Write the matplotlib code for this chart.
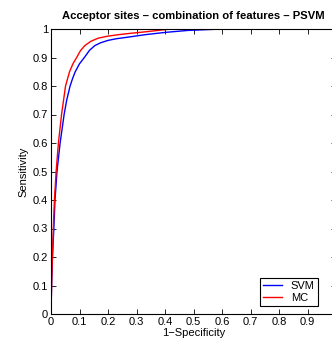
import matplotlib
matplotlib.use('Agg')
import matplotlib.pyplot as plt

plt.rcParams['font.family'] = ['Liberation Sans', 'DejaVu Sans']

# ROC points (false positive rate, true positive rate)
svm_fpr = [0.0, 0.001, 0.002, 0.005, 0.010, 0.014, 0.021, 0.032, 0.046, 0.055, 0.067,
           0.076, 0.085, 0.100, 0.117, 0.135, 0.154, 0.175, 0.200, 0.230, 0.260,
           0.295, 0.330, 0.400, 0.480, 0.600, 1.0]
svm_tpr = [0.0, 0.05, 0.10, 0.20, 0.30, 0.40, 0.50, 0.60, 0.70, 0.75, 0.80,
           0.827, 0.85, 0.878, 0.90, 0.925, 0.942, 0.952, 0.960, 0.966, 0.970,
           0.975, 0.980, 0.988, 0.995, 1.0, 1.0]

mc_fpr = [0.0, 0.001, 0.002, 0.005, 0.008, 0.012, 0.018, 0.026, 0.037, 0.051,
          0.065, 0.077, 0.090, 0.104, 0.119, 0.140, 0.166, 0.200, 0.236, 0.280,
          0.330, 0.420, 1.0]
mc_tpr = [0.0, 0.05, 0.10, 0.20, 0.30, 0.40, 0.50, 0.60, 0.70, 0.80,
          0.85, 0.878, 0.90, 0.925, 0.942, 0.957, 0.968, 0.975, 0.980, 0.985,
          0.990, 1.0, 1.0]

ticks = [0, 0.1, 0.2, 0.3, 0.4, 0.5, 0.6, 0.7, 0.8, 0.9, 1]
x_labels = ['0', '0.1', '0.2', '0.3', '0.4', '0.5', '0.6', '0.7', '0.8', '0.9', '']
y_labels = ['0', '0.1', '0.2', '0.3', '0.4', '0.5', '0.6', '0.7', '0.8', '0.9', '1']

fig = plt.figure(figsize=(3.32, 3.38), dpi=100)
ax = fig.add_axes([51 / 332, 24 / 338, 285 / 332, 285 / 338])

ax.plot(svm_fpr, svm_tpr, color='#0000ff', lw=1.0, label='SVM')
ax.plot(mc_fpr, mc_tpr, color='#ff0000', lw=1.0, label='MC')

ax.set_xlim(0, 1)
ax.set_ylim(0, 1)
ax.set_xticks(ticks)
ax.set_xticklabels(x_labels)
ax.set_yticks(ticks)
ax.set_yticklabels(y_labels)
ax.tick_params(direction='in', length=3.5, width=0.6, labelsize=8,
               top=True, right=True, pad=2)
for s in ax.spines.values():
    s.set_linewidth(0.8)

ax.set_title('Acceptor sites \u2013 combination of features \u2013 PSVM',
             fontsize=8.1, fontweight='bold', pad=7)
ax.set_xlabel('1\u2212Specificity', fontsize=8, labelpad=1)
ax.set_ylabel('Sensitivity', fontsize=8, labelpad=3)

leg = ax.legend(loc='lower right', bbox_to_anchor=(0.937, 0.028), borderaxespad=0,
                fontsize=8, fancybox=False, edgecolor='black', framealpha=1,
                handlelength=1.7, handletextpad=0.8, borderpad=0.3, labelspacing=0.15)
leg.get_frame().set_linewidth(0.8)

fig.savefig('out.png', dpi=100)
